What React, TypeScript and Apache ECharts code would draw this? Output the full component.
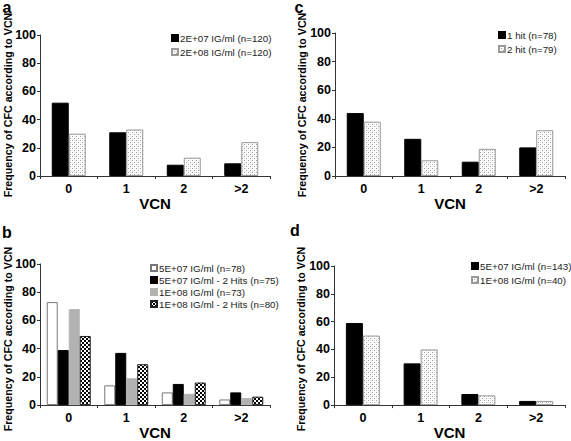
import React, { useEffect, useRef } from 'react';
import * as echarts from 'echarts';

const categories = ['0', '1', '2', '>2'];

const aNames = ['2E+07 IG/ml (n=120)', '2E+08 IG/ml (n=120)'];
const a2e7 = [52, 31, 8, 9];
const a2e8 = [30, 33, 13, 24];

const bNames = [
  '5E+07 IG/ml (n=78)',
  '5E+07 IG/ml - 2 Hits (n=75)',
  '1E+08 IG/ml (n=73)',
  '1E+08 IG/ml - 2 Hits (n=80)',
];
const b5e7 = [73, 14, 9, 4];
const b5e7Hits = [39, 37, 15, 9];
const b1e8 = [68, 19, 8, 5];
const b1e8Hits = [49, 29, 16, 6];

const cNames = ['1 hit (n=78)', '2 hit (n=79)'];
const c1hit = [44, 26, 10, 20];
const c2hit = [38, 11, 19, 32];

const dNames = ['5E+07 IG/ml (n=143)', '1E+08 IG/ml (n=40)'];
const d5e7 = [59, 30, 8, 3];
const d1e8 = [50, 40, 7, 3];

const yMin = 0;
const yMax = 100;
const yInterval = 20;
const yTitle = 'Frequency of CFC according to VCN';
const xTitle = 'VCN';
const panelLetters = ['a', 'b', 'c', 'd'];

const FONT = '"Liberation Sans", Arial, sans-serif';

function makePattern(kind: 'dots' | 'checker') {
  const c = document.createElement('canvas');
  c.width = 4;
  c.height = 4;
  const ctx = c.getContext('2d')!;
  ctx.fillStyle = '#ffffff';
  ctx.fillRect(0, 0, 4, 4);
  if (kind === 'dots') {
    ctx.fillStyle = '#a0a0a0';
    ctx.fillRect(0, 0, 1, 1);
    ctx.fillRect(2, 2, 1, 1);
    ctx.fillStyle = '#e6e6e6';
    ctx.fillRect(2, 0, 1, 1);
    ctx.fillRect(0, 2, 1, 1);
  } else {
    ctx.fillStyle = '#000000';
    ctx.fillRect(0, 0, 2, 2);
    ctx.fillRect(2, 2, 2, 2);
  }
  return { image: c.toDataURL(), repeat: 'repeat', imageWidth: 4, imageHeight: 4 } as any;
}

export default function App() {
  const ref = useRef<HTMLDivElement>(null);
  useEffect(() => {
    if (!ref.current) return;
    const chart = echarts.init(ref.current, null, { renderer: 'svg' });
    const dots = makePattern('dots');
    const checker = makePattern('checker');

    const grids = [
      { left: 40, top: 35, width: 230, height: 141 },
      { left: 40, top: 264, width: 230, height: 144 },
      { left: 335, top: 33, width: 230, height: 143 },
      { left: 334, top: 266, width: 231, height: 142 },
    ];

    const axisColor = '#333';
    const xAxes = grids.map((_, i) => ({
      type: 'category',
      gridIndex: i,
      data: categories,
      axisLine: { show: true, lineStyle: { color: axisColor, width: 1 } },
      axisTick: { show: true, length: 3, lineStyle: { color: axisColor } },
      axisLabel: { fontFamily: FONT, fontWeight: 'bold', fontSize: 12.5, color: '#000', margin: 6 },
      name: xTitle,
      nameLocation: 'middle',
      nameGap: 17,
      nameTextStyle: { fontFamily: FONT, fontWeight: 'bold', fontSize: 15, color: '#000' },
    }));
    const yAxes = grids.map((_, i) => ({
      type: 'value',
      gridIndex: i,
      min: yMin,
      max: yMax,
      interval: yInterval,
      axisLine: { show: true, lineStyle: { color: axisColor, width: 1 } },
      axisTick: { show: true, length: 3, lineStyle: { color: axisColor } },
      axisLabel: { fontFamily: FONT, fontWeight: 'bold', fontSize: 12.5, color: '#000', margin: 4 },
      splitLine: { show: false },
    }));

    const bar = (name: string, data: number[], idx: number, width: number, itemStyle: any) => ({
      type: 'bar',
      name,
      data,
      xAxisIndex: idx,
      yAxisIndex: idx,
      barWidth: width,
      barGap: '0%',
      itemStyle,
    });

    const blackStyle = { color: '#000', borderColor: '#000', borderWidth: 1 };
    const dotStyle = { color: dots, borderColor: '#999', borderWidth: 1 };
    const whiteStyle = { color: '#fff', borderColor: '#777', borderWidth: 1 };
    const grayStyle = { color: '#b2b2b2', borderColor: '#b2b2b2', borderWidth: 1 };
    const checkerStyle = { color: checker, borderColor: '#222', borderWidth: 1 };

    const series = [
      bar(aNames[0], a2e7, 0, 17, blackStyle),
      bar(aNames[1], a2e8, 0, 17, dotStyle),
      bar(bNames[0], b5e7, 1, 11, whiteStyle),
      bar(bNames[1], b5e7Hits, 1, 11, blackStyle),
      bar(bNames[2], b1e8, 1, 11, grayStyle),
      bar(bNames[3], b1e8Hits, 1, 11, checkerStyle),
      bar(cNames[0], c1hit, 2, 17, blackStyle),
      bar(cNames[1], c2hit, 2, 17, dotStyle),
      bar(dNames[0], d5e7, 3, 17, blackStyle),
      bar(dNames[1], d1e8, 3, 17, dotStyle),
    ];

    const legendBase = {
      orient: 'vertical',
      icon: 'rect',
      itemWidth: 6,
      itemHeight: 6,
      selectedMode: false,
      padding: 0,
      textStyle: { fontFamily: FONT, fontSize: 9.8, color: '#222', lineHeight: 12, padding: [0, 0, 0, -3] },
    };
    const legends = [
      { ...legendBase, data: aNames, left: 171, top: 32, itemGap: 2 },
      { ...legendBase, data: bNames, left: 150, top: 262, itemGap: 0 },
      { ...legendBase, data: cNames, left: 498, top: 29, itemGap: 2 },
      { ...legendBase, data: dNames, left: 471, top: 260, itemGap: 2 },
    ];

    const titlePos = [
      [7.5, 105],
      [7.5, 339],
      [302, 105],
      [301, 339],
    ];
    const letterPos = [
      [7, 7],
      [7, 232],
      [299, 7],
      [295, 230],
    ];
    const graphic: any[] = [];
    titlePos.forEach(([x, y]) => {
      graphic.push({
        type: 'text',
        x,
        y,
        rotation: Math.PI / 2,
        style: {
          text: yTitle,
          font: `bold 10.7px ${FONT}`,
          fill: '#000',
          align: 'center',
          verticalAlign: 'middle',
        },
      });
    });
    letterPos.forEach(([x, y], i) => {
      graphic.push({
        type: 'text',
        x,
        y,
        style: {
          text: panelLetters[i],
          font: `bold 16px ${FONT}`,
          fill: '#000',
          align: 'center',
          verticalAlign: 'middle',
        },
      });
    });

    chart.setOption({
      animation: false,
      backgroundColor: '#fff',
      grid: grids,
      xAxis: xAxes,
      yAxis: yAxes,
      legend: legends,
      series,
      graphic,
    } as any);
    return () => chart.dispose();
  }, []);
  return (
    <div
      ref={ref}
      style={{ position: 'fixed', left: 0, top: 0, width: 571, height: 441, background: '#fff' }}
    />
  );
}
